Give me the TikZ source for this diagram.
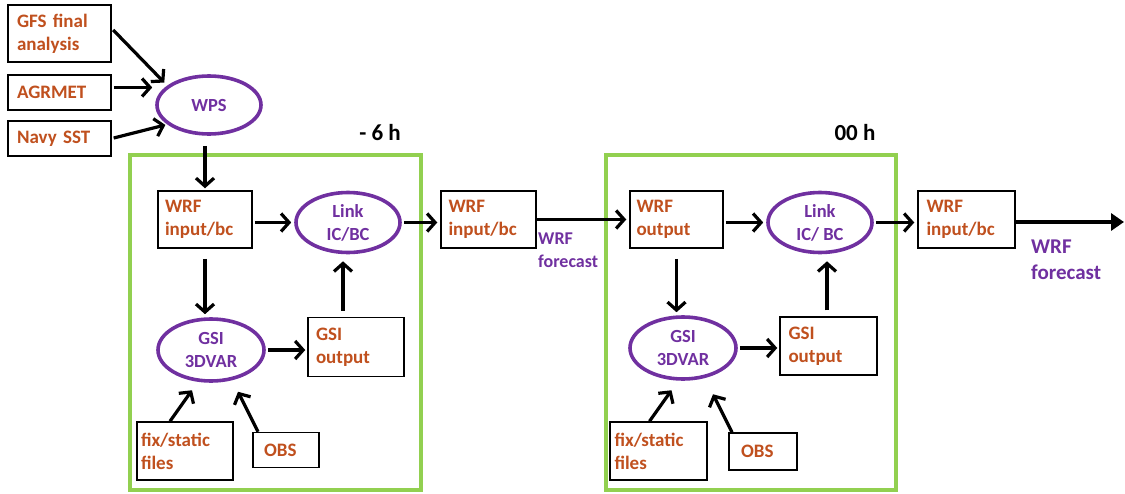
\documentclass[tikz,border=0pt]{standalone}
\usepackage{fontspec}
\setmainfont{Carlito}
\usetikzlibrary{arrows.meta,shapes.geometric}
\definecolor{boxtxt}{RGB}{192,80,30}
\definecolor{ellc}{RGB}{112,48,160}
\definecolor{grn}{RGB}{146,208,80}
\begin{document}
\begin{tikzpicture}[x=1pt,y=-1pt,
 bx/.style={draw=black, line width=1.5pt, rectangle, text=boxtxt, font=\fontsize{19}{23}\selectfont\bfseries, align=left, inner xsep=0pt, inner ysep=0pt},
 el/.style={draw=ellc, line width=3.6pt, ellipse, text=ellc, font=\fontsize{18.5}{23}\selectfont\bfseries, align=center, inner sep=0pt},
 ar/.style={line width=3.2pt, -{Straight Barb[length=8pt,width=18pt,line width=3.2pt]}},
 grnbox/.style={draw=grn, line width=4pt, rectangle, inner sep=0pt},
 lbl/.style={font=\fontsize{23}{26}\selectfont\bfseries, text=black, inner sep=0pt},
 fc/.style={text=ellc, font=\fontsize{18}{23}\selectfont\bfseries, align=left, inner sep=0pt, anchor=north west}
]
\useasboundingbox (0,0) rectangle (1125,493);
\fill[white] (0,0) rectangle (1125,493);

% inputs
\node[bx, minimum width=103, minimum height=57, text width=85] (gfs) at (59.5,33.5) {GFS final\\analysis};
\node[bx, minimum width=103, minimum height=35, text width=85] (agr) at (59.5,92.5) {AGRMET};
\node[bx, minimum width=103, minimum height=35, text width=85] (navy) at (59.5,138.5) {Navy SST};
\node[el, minimum width=104, minimum height=58] (wps) at (209,105) {WPS};

\draw[ar, shorten <=2pt] ([yshift=5]gfs.east) -- ([shift={(-3,-3)}]wps.155);
\draw[ar, shorten <=2pt, shorten >=3pt] ([yshift=5]agr.east) -- ([yshift=5]agr.east -| wps.west);
\draw[ar, shorten <=2pt, shorten >=2pt] (navy.east) -- (wps.205);

% frames
\node[grnbox, minimum width=291, minimum height=335] (frame1) at (275.5,322.5) {};
\node[grnbox, minimum width=290, minimum height=335] (frame2) at (751,322.5) {};
\node[lbl] (m6) at (380,133) {- 6 h};
\node[lbl] (h00) at (855,133) {00 h};

% stage 1
\node[bx, minimum width=94, minimum height=57, text width=80] (wrf1) at (205,219.5) {WRF\\input/bc};
\node[el, minimum width=104, minimum height=60] (link1) at (348,222.5) {Link\\IC/BC};
\node[el, minimum width=106, minimum height=62] (gsi1) at (211,350) {GSI\\3DVAR};
\node[bx, minimum width=96, minimum height=59, text width=80] (gout1) at (356,347) {GSI\\output};
\node[bx, minimum width=96, minimum height=58, text width=88] (fix1) at (185,451) {fix/static\\files};
\node[bx, minimum width=66, minimum height=35, text width=44] (obs1) at (286,450) {OBS};

\draw[ar, shorten <=10pt, shorten >=2pt] (wps.south -| wrf1.north) -- (wrf1.north);
\draw[ar, shorten <=2pt, shorten >=3pt] (wrf1.east |- link1.west) -- (link1.west);
\draw[ar, shorten <=10pt, shorten >=3pt] (wrf1.south) -- (wrf1.south |- gsi1.north);
\draw[ar, shorten <=2pt, shorten >=2pt] (gsi1.east) -- (gout1.west |- gsi1.east);
\draw[ar, shorten <=6pt, shorten >=7pt] (gout1.north -| 343,0) -- (link1.south -| 343,0);
\draw[ar] ([xshift=-15]fix1.north) -- ++(22,-31);
\draw[ar] ([xshift=-28]obs1.north) -- ++(-20,-40);

% between
\node[bx, minimum width=95, minimum height=57, text width=80] (wrf2) at (488.5,219.5) {WRF\\input/bc};
\draw[ar, shorten <=2pt, shorten >=3pt] (link1.east) -- (wrf2.west |- link1.east);
\node[fc] (fc1) at (538,233) {WRF\\forecast};

% stage 2
\node[bx, minimum width=93, minimum height=57, text width=80] (wrfo) at (676.5,219.5) {WRF\\output};
\node[el, minimum width=104, minimum height=60] (link2) at (820,222.5) {Link\\IC/ BC};
\node[el, minimum width=106, minimum height=62] (gsi2) at (683,348) {GSI\\3DVAR};
\node[bx, minimum width=97, minimum height=58, text width=80] (gout2) at (828.5,346) {GSI\\output};
\node[bx, minimum width=97, minimum height=58, text width=88] (fix2) at (658.5,451) {fix/static\\files};
\node[bx, minimum width=68, minimum height=37, text width=44] (obs2) at (763,451.5) {OBS};

\draw[ar, shorten >=3pt] (wrf2.east |- wrfo.west) -- (wrfo.west);
\draw[ar, shorten <=2pt, shorten >=3pt] (wrfo.east |- link2.west) -- (link2.west);
\draw[ar, shorten <=10pt, shorten >=3pt] (wrfo.south) -- (wrfo.south |- gsi2.north);
\draw[ar, shorten <=2pt, shorten >=2pt] (gsi2.east) -- (gout2.west |- gsi2.east);
\draw[ar, shorten <=6pt, shorten >=7pt] (gout2.north -| 827,0) -- (link2.south -| 827,0);
\draw[ar] ([xshift=-9]fix2.north) -- ++(22,-31);
\draw[ar] ([xshift=-31]obs2.north) -- ++(-19,-38);

% final
\node[bx, minimum width=97, minimum height=57, text width=80] (wrf3) at (966.5,219.5) {WRF\\input/bc};
\draw[ar, shorten <=2pt, shorten >=3pt] (link2.east) -- (wrf3.west |- link2.east);
\coordinate (endpt) at (1124,222);
\draw[line width=4.5pt, -{Triangle[length=13pt,width=17pt]}] (wrf3.east |- endpt) -- (endpt);
\node[fc, font=\fontsize{21}{26}\selectfont\bfseries] (fc2) at (1031,240) {WRF\\forecast};
\end{tikzpicture}
\end{document}
